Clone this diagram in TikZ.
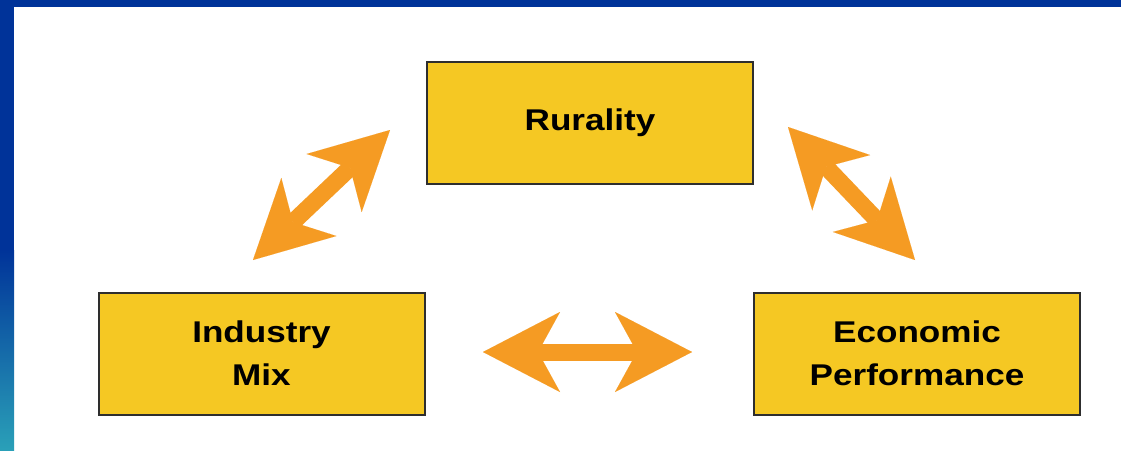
\documentclass[tikz,border=0pt]{standalone}
\usepackage{fontspec}
\newfontfamily\boxfont{Liberation Sans}[FakeStretch=1.17]
\usetikzlibrary{arrows.meta}
\definecolor{frameblue}{HTML}{003399}
\definecolor{frameteal}{HTML}{2AA0B8}
\definecolor{boxfill}{HTML}{F5C823}
\definecolor{boxline}{HTML}{2E2E2E}
\definecolor{arroworange}{HTML}{F59B23}
\tikzset{
  factor/.style={draw=boxline, line width=2pt, fill=boxfill, inner sep=0pt,
    minimum width=326pt, minimum height=122pt, align=center,
    font=\boxfont\bfseries\fontsize{30pt}{43pt}\selectfont},
  twoway/.style={draw=arroworange, line width=17pt,
    {Stealth[length=77pt,width=80pt,inset=22pt,line width=0.01pt,fill=arroworange]}-{Stealth[length=77pt,width=80pt,inset=22pt,line width=0.01pt,fill=arroworange]}}
}
\begin{document}
\begin{tikzpicture}[x=1pt,y=-1pt]
\useasboundingbox (0,0) rectangle (1121,450);
\fill[white] (0,0) rectangle (1121,450);
\fill[frameblue] (0,0) rectangle (1121,7);
\fill[frameblue] (0,0) rectangle (14,252);
\shade[top color=frameblue, bottom color=frameteal] (0,250) rectangle (14,450);
% boxes
\node[factor] (rur) at (590,123) {Rurality};
\node[factor] (ind) at (261.5,353.5) {Industry\\Mix};
\node[factor] (eco) at (917,353.5) {Economic\\Performance};
% arrow ends
\coordinate (a1) at (253,260);
\coordinate (a2) at (390,130);
\coordinate (b1) at (788,127);
\coordinate (b2) at (915,260);
\coordinate (c1) at (483,352);
\coordinate (c2) at (692,352);
\draw[twoway] (a1) -- (a2);
\draw[twoway] (b1) -- (b2);
\draw[twoway] (c1) -- (c2);
\end{tikzpicture}
\end{document}
